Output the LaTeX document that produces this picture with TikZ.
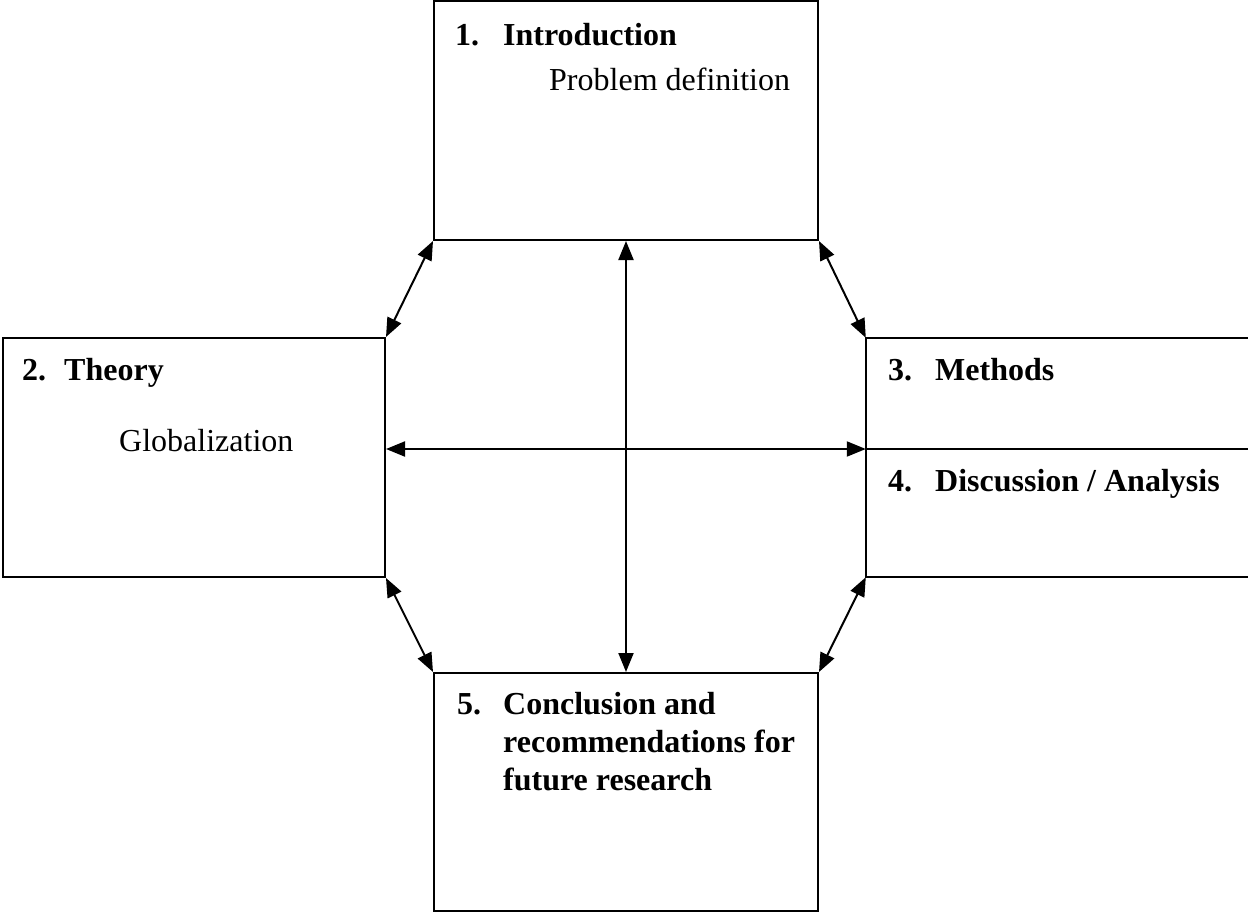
\documentclass[tikz,border=0pt]{standalone}
\usepackage{fontspec}
\setmainfont{Liberation Serif}
\usetikzlibrary{arrows.meta}
\begin{document}
\begin{tikzpicture}[x=1pt,y=-1pt,
  box/.style={draw,line width=2pt,rectangle,inner sep=0pt},
  txt/.style={anchor=base west,inner sep=0pt,font=\fontsize{32}{38}\selectfont},
  btxt/.style={txt,font=\fontsize{32}{38}\selectfont\bfseries},
  link/.style={line width=2pt,{Triangle[length=19pt,width=15pt]}-{Triangle[length=19pt,width=15pt]}}]
\useasboundingbox (0,0) rectangle (1248,913);
% boxes
\node[box,minimum width=384pt,minimum height=239pt] (intro) at (626,120.5) {};
\node[box,minimum width=382pt,minimum height=239pt] (theory) at (194,457.5) {};
\node[box,minimum width=384pt,minimum height=238pt] (concl) at (626,792) {};
\node[inner sep=0pt,minimum width=384pt,minimum height=239pt] (meth) at (1058,457.5) {};
\draw[line width=2pt] (meth.north east) -- (meth.north west) -- (meth.south west) -- (meth.south east);
\coordinate (div) at (meth.west |- 0,449);
\draw[line width=2pt] (div) -- (div -| meth.east);
% texts
\node[btxt] (n1) at (455,45) {1.};
\node[btxt] (t1) at (503,45) {Introduction};
\node[txt] (p1) at (549,90) {Problem definition};
\node[btxt] (n2) at (22,380) {2.};
\node[btxt] (t2) at (64,380) {Theory};
\node[txt] (p2) at (119,451) {Globalization};
\node[btxt] (n3) at (888,380) {3.};
\node[btxt] (t3) at (935,380) {Methods};
\node[btxt] (n4) at (888,491) {4.};
\node[btxt] (t4) at (935,491) {Discussion / Analysis};
\node[btxt] (n5) at (457,714) {5.};
\node[btxt] (t5a) at (503,714) {Conclusion and};
\node[btxt] (t5b) at (503,752) {recommendations for};
\node[btxt] (t5c) at (503,790) {future research};
% connectors
\draw[link] (intro.south west) -- (theory.north east);
\draw[link] (intro.south east) -- (meth.north west);
\draw[link] (theory.south east) -- (concl.north west);
\draw[link] (meth.south west) -- (concl.north east);
\draw[link] (intro.south) -- (concl.north);
\draw[link] (theory.east |- div) -- (div);
\end{tikzpicture}
\end{document}
